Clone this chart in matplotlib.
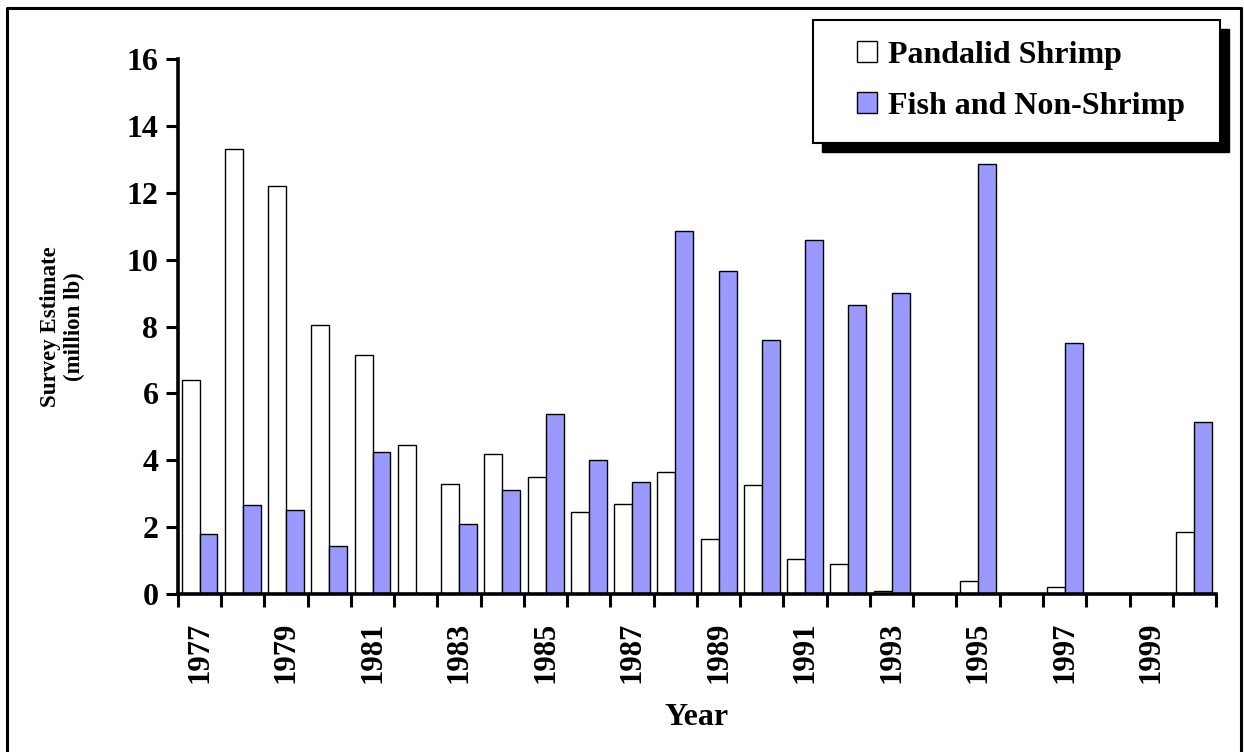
import numpy as np
import matplotlib
matplotlib.use("Agg")
import matplotlib.pyplot as plt
from matplotlib.lines import Line2D
from matplotlib.patches import Rectangle

years = list(range(1977, 2001))
shrimp = [6.4, 13.3, 12.2, 8.05, 7.15, 4.45, 3.3, 4.2, 3.5, 2.45,
          2.7, 3.65, 1.65, 3.25, 1.05, 0.9, 0.1, 0.0, 0.4, 0.0,
          0.22, 0.0, 0.0, 1.85]
fish = [1.8, 2.65, 2.5, 1.45, 4.25, 0.0, 2.1, 3.1, 5.4, 4.0,
        3.35, 10.85, 9.65, 7.6, 10.6, 8.65, 9.0, 0.0, 12.85, 0.0,
        7.5, 0.0, 0.0, 5.15]

plt.rcParams['font.family'] = ['Liberation Serif', 'DejaVu Serif']
plt.rcParams['font.weight'] = 'bold'

fig = plt.figure(figsize=(12.44, 7.52), dpi=100)
ax = fig.add_axes([0.143, 0.21, 0.8345, 0.7115])

x = np.arange(len(years))
w = 0.415
ax.bar(x - w / 2, shrimp, w, color='white', edgecolor='black', linewidth=1.0,
       label='Pandalid Shrimp', zorder=2)
ax.bar(x + w / 2, fish, w, color='#9999ff', edgecolor='black', linewidth=1.0,
       label='Fish and Non-Shrimp', zorder=2)

ax.set_xlim(-0.5, len(years) - 0.5)
ax.set_ylim(0, 16)
ax.set_yticks(range(0, 17, 2))
ax.tick_params(axis='y', labelsize=23, width=2.2, length=9, pad=5)

# ticks at category boundaries, labels on every other year
ax.set_xticks(np.arange(len(years) + 1) - 0.5)
ax.set_xticklabels([])
ax.set_xticks(x[::2], minor=True)
ax.set_xticklabels([str(y) for y in years[::2]], minor=True, rotation=90,
                   fontsize=22, fontweight='bold')
ax.tick_params(axis='x', which='major', width=2.2, length=9)
ax.tick_params(axis='x', which='minor', length=0, pad=20)

for s in ['top', 'right']:
    ax.spines[s].set_visible(False)
for s in ['left', 'bottom']:
    ax.spines[s].set_linewidth(2.6)

ax.set_ylabel('Survey Estimate\n(million lb)', fontsize=16.5, fontweight='bold',
              labelpad=30, linespacing=1.2)
ax.set_xlabel('Year', fontsize=23, fontweight='bold', labelpad=14)

# figure border (left, top, right)
bx0, bx1, by1 = 7 / 1244, 1241 / 1244, 1 - 8 / 752
fig.lines.append(Line2D([bx0, bx0, bx1, bx1], [0, by1, by1, 0],
                        transform=fig.transFigure, color='black', linewidth=2.2))

# legend box with drop shadow
lx, ly, lw, lh = 813 / 1244, 1 - 143 / 752, 407 / 1244, 123 / 752
fig.patches.append(Rectangle((lx + 9 / 1244, ly - 9 / 752), lw, lh,
                             transform=fig.transFigure, facecolor='black',
                             edgecolor='black', zorder=5))
fig.patches.append(Rectangle((lx, ly), lw, lh, transform=fig.transFigure,
                             facecolor='white', edgecolor='black', linewidth=1.5,
                             zorder=6))
leg = fig.legend(loc='upper left', bbox_to_anchor=(831 / 1244, 1 - 15 / 752),
                 frameon=False, fontsize=23, handlelength=0.65, handleheight=0.65,
                 handletextpad=0.35, labelspacing=0.7, borderpad=0.3)
leg.set_zorder(7)

fig.savefig('out.png', dpi=100)
